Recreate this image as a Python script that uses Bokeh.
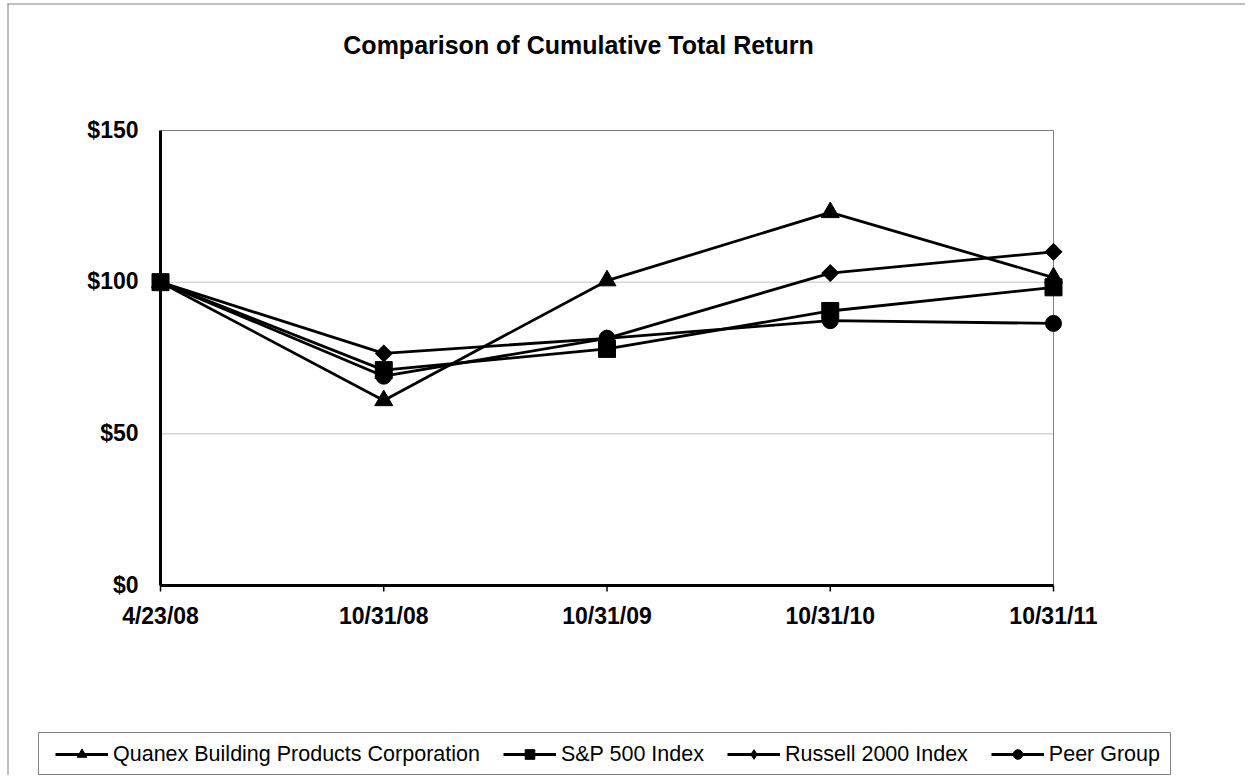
from bokeh.plotting import figure
from bokeh.models import Legend, LegendItem, Label
from bokeh.core.properties import value
from bokeh.embed import file_html
from bokeh.resources import INLINE

dates = ["4/23/08", "10/31/08", "10/31/09", "10/31/10", "10/31/11"]
quanex = [100, 61, 100.5, 123, 101.5]
sp500 = [100, 71, 78, 90.5, 98.3]
russell = [100, 76.5, 81.5, 103, 110]
peer = [100, 69, 81.5, 87.3, 86.4]
y_ticks = [0, 50, 100, 150]
y_labels = ["$0", "$50", "$100", "$150"]
grid_vals = [50, 100]
title = "Comparison of Cumulative Total Return"

FONT = "Liberation Sans"
W, H = 1245, 775
# layout of the plotting box, in pixels
X0_PX, X1_PX = 160, 1053      # left / right edge of plotting box
Y0_PX, Y1_PX = 585, 130       # bottom ($0) / top ($150) of plotting box
LEG_L, LEG_R, LEG_T, LEG_B = 38, 1170, 732, 774   # legend box

xs = list(range(len(dates)))
x_last = len(dates) - 1
y_max = y_ticks[-1]
sx = (X1_PX - X0_PX) / x_last
sy = (Y0_PX - Y1_PX) / y_max


def px2x(px):
    return (px - X0_PX) / sx


def px2y(py):
    return (Y0_PX - py) / sy


p = figure(width=W, height=H, output_backend="svg", toolbar_location=None,
           x_range=(px2x(0), px2x(W)), y_range=(px2y(H), px2y(0)),
           x_axis_location=None, y_axis_location=None,
           min_border=0)
p.outline_line_color = None
p.grid.visible = False

# outer chart border (left / top)
p.segment(x0=[px2x(7.5), px2x(7)], x1=[px2x(7.5), px2x(W)],
          y0=[px2y(3), px2y(3.5)], y1=[px2y(H), px2y(3.5)],
          line_color="#808080", line_width=1)

# legend box
p.quad(left=[px2x(LEG_L)], right=[px2x(LEG_R)], top=[px2y(LEG_T)], bottom=[px2y(LEG_B)],
       fill_color="white", line_color="#808080", line_width=1)

# grid lines
p.segment(x0=[0] * len(grid_vals), x1=[x_last] * len(grid_vals), y0=grid_vals, y1=grid_vals,
          line_color="#c0c0c0", line_width=1)
# plot-area border (top / right)
p.segment(x0=[0, x_last], x1=[x_last, x_last], y0=[y_max, 0], y1=[y_max, y_max],
          line_color="#808080", line_width=1)

# axes
tick_len = 6 / sy
p.segment(x0=xs, x1=xs, y0=[0] * len(xs), y1=[-tick_len] * len(xs),
          line_color="black", line_width=1.5)
p.segment(x0=[0, 0], x1=[0, x_last], y0=[0, 0], y1=[y_max, 0],
          line_color="black", line_width=3)

p.text(x=xs, y=[0] * len(xs), text=dates, text_align="center", text_baseline="alphabetic",
       y_offset=30, text_font=value(FONT), text_font_size="23px", text_font_style="bold",
       text_color="black")
p.text(x=[0] * len(y_ticks), y=y_ticks, text=y_labels, text_align="right",
       text_baseline="alphabetic", x_offset=-22, y_offset=-1,
       text_font=value(FONT), text_font_size="23px", text_font_style="bold",
       text_color="black")

p.add_layout(Label(x=px2x(578), y=px2y(44), text=title, text_align="center",
                   text_baseline="alphabetic", text_font=FONT, text_font_size="25px",
                   text_font_style="bold", text_color="black"))

series = [
    ("Quanex Building Products Corporation", quanex, "triangle", 18, 0, None),
    ("S&P 500 Index", sp500, "square", 17, 0, None),
    ("Russell 2000 Index", russell, "square", 12, 0.785398, "diamond"),
    ("Peer Group", peer, "circle", 16, 0, None),
]
items = []
for name, vals, marker, size, ang, leg_marker in series:
    lr = p.line(xs, vals, line_color="black", line_width=2.8)
    rs = [lr]
    if leg_marker:
        # smaller marker hidden under the plotted one, used for the legend symbol
        rs.append(p.scatter(xs, vals, marker=leg_marker, size=size, fill_color="black",
                            line_color="black"))
    sr = p.scatter(xs, vals, marker=marker, size=size, angle=ang,
                   fill_color="black", line_color="black")
    if not leg_marker:
        rs.append(sr)
    items.append(LegendItem(label=name, renderers=rs))

leg_h = 2 * 19 + 25
legend = Legend(items=items, orientation="horizontal",
                location=(LEG_L + 17, H - (LEG_T + LEG_B) / 2 - leg_h / 2 + 18),
                border_line_color=None, background_fill_alpha=0,
                padding=19, spacing=23, glyph_width=53, glyph_height=24,
                label_standoff=5, margin=0,
                label_text_font=FONT, label_text_font_size="21.5px",
                label_text_color="black")
p.add_layout(legend, "center")

open("out.html", "w").write(file_html(p, INLINE))
